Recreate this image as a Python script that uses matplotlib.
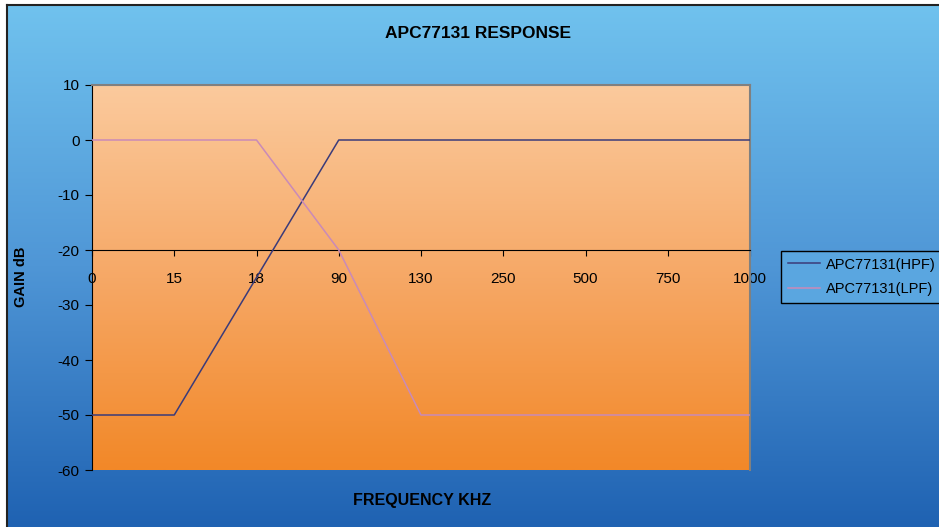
import numpy as np
import matplotlib.pyplot as plt
from matplotlib.colors import LinearSegmentedColormap

plt.rcParams['font.family'] = ['Liberation Sans', 'DejaVu Sans']
plt.rcParams['axes.unicode_minus'] = False

freq_labels = ['0', '15', '18', '90', '130', '250', '500', '750', '1000']
hpf = [-50, -50, -25, 0, 0, 0, 0, 0, 0]
lpf = [0, 0, 0, -20, -50, -50, -50, -50, -50]

W, H = 939, 527
fig = plt.figure(figsize=(W / 100, H / 100), dpi=100)
fig.patch.set_facecolor('white')

# blue chart background
bg = fig.add_axes([7 / W, 0, 1 - 7 / W, 1 - 5 / H])
blue = LinearSegmentedColormap.from_list('b', ['#70c2ee', '#4f96d6', '#1f62b2'])
bg.imshow(np.linspace(0, 1, 256).reshape(-1, 1), aspect='auto', cmap=blue,
          extent=[0, 1, 0, 1], origin='upper')
bg.set_xlim(0, 1)
bg.set_ylim(0, 1)
bg.set_xticks([])
bg.set_yticks([])
for s in ['right', 'bottom']:
    bg.spines[s].set_visible(False)
for s in ['left', 'top']:
    bg.spines[s].set_color('#222222')
    bg.spines[s].set_linewidth(1.5)

# plot area
ax = fig.add_axes([92 / W, (H - 470) / H, (750 - 92) / W, (470 - 85) / H])
orange = LinearSegmentedColormap.from_list('o', ['#fbca9d', '#f6a866', '#f28828'])
ax.imshow(np.linspace(0, 1, 256).reshape(-1, 1), aspect='auto', cmap=orange,
          extent=[0, 8, -60, 10], origin='upper', zorder=0)

x = np.arange(len(freq_labels))
ax.plot(x, hpf, color='#3b3b7a', lw=1.1, label='APC77131(HPF)', zorder=3)
ax.plot(x, lpf, color='#c98ab8', lw=1.1, label='APC77131(LPF)', zorder=3)

ax.set_xlim(0, 8)
ax.set_ylim(-60, 10)
ax.set_yticks(range(-60, 11, 10))
ax.set_xticks(x)
ax.set_xticklabels(freq_labels)
ax.spines['bottom'].set_position(('data', -20))
ax.spines['bottom'].set_color('black')
ax.spines['left'].set_color('black')
ax.spines['top'].set_color('#808080')
ax.spines['right'].set_color('#808080')
ax.spines['top'].set_linewidth(1.5)
ax.spines['right'].set_linewidth(1.5)
ax.tick_params(axis='y', direction='out', length=5, labelsize=11, pad=4)
ax.tick_params(axis='x', direction='out', length=4, labelsize=11, pad=12)

fig.text(21 / W, 1 - 277 / H, 'GAIN dB', fontsize=10.5, fontweight='bold',
         rotation=90, ha='center', va='center')
fig.text(422 / W, 1 - 500 / H, 'FREQUENCY KHZ', fontsize=11.5, fontweight='bold',
         ha='center', va='center')
fig.text(478 / W, 1 - 33 / H, 'APC77131 RESPONSE', fontsize=12.5, fontweight='bold',
         ha='center', va='center')

leg = fig.legend(loc='upper left', bbox_to_anchor=(781 / W, 1 - 251 / H),
                 fontsize=10.5, frameon=True, fancybox=False, handlelength=2.2,
                 handletextpad=0.4, borderpad=0.45, labelspacing=0.75,
                 borderaxespad=0)
leg.get_frame().set_facecolor('#5aa6e0')
leg.get_frame().set_edgecolor('black')
leg.get_frame().set_alpha(1)

fig.savefig('out.png', dpi=100)
